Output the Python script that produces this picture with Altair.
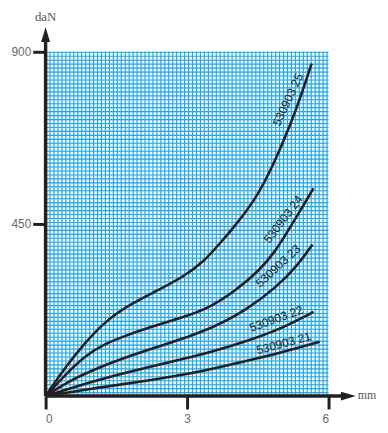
import altair as alt
import pandas as pd

# ---- data ----
x25 = [0, 0.42, 0.84, 1.26, 1.68, 2.31, 2.94, 3.36, 3.71, 4.07, 4.43, 4.70, 5.01, 5.33, 5.64]
y25 = [0, 76, 140, 194, 232, 272, 313, 352, 401, 453, 512, 572, 655, 753, 869]
x24 = [0, 0.42, 0.84, 1.26, 1.68, 2.10, 2.94, 3.44, 4.07, 4.55, 4.85, 5.12, 5.68]
y24 = [0, 56, 106, 137, 157, 176, 207, 228, 279, 331, 375, 427, 543]
x23 = [0, 0.42, 1.05, 2.10, 3.36, 4.28, 4.91, 5.30, 5.66]
y23 = [0, 34, 72, 119, 166, 226, 287, 335, 396]
x22 = [0, 1.05, 2.10, 3.36, 4.22, 4.91, 5.68]
y22 = [0, 41, 74, 109, 142, 171, 220]
x21 = [0, 1.05, 2.10, 3.36, 4.22, 4.91, 5.81]
y21 = [0, 21, 39, 65, 91, 111, 142]

series = ["530903 25", "530903 24", "530903 23", "530903 22", "530903 21"]
xs = [x25, x24, x23, x22, x21]
ys = [y25, y24, y23, y22, y21]

label_x = [5.14, 5.04, 4.93, 4.89, 5.05]
label_y = [775, 462, 340, 202, 138]
label_angle = [295, 307, 317, 340, 345]

x_ticks = [0, 3, 6]
y_ticks = [450, 900]

rows = []
for name, xv, yv in zip(series, xs, ys):
    for a, b in zip(xv, yv):
        rows.append({"s": name, "x": a, "y": b})
curves = pd.DataFrame(rows)
labels = pd.DataFrame({"s": series, "x": label_x, "y": label_y, "a": label_angle})

xs_scale = alt.Scale(domain=[0, 6], nice=False, zero=False)
ys_scale = alt.Scale(domain=[0, 900], nice=False, zero=False)

W, H = 286, 348
# grid pitch of 4 px, offset half a pixel for crisp lines (styling only)
grid_x = [(0.5 + 4 * i) * 6 / W for i in range(0, 72)]
grid_y = [900 - (0.5 + 4 * i) * 900 / H for i in range(0, 87)]
GRID = "#25a6e2"
INK = "#231f20"

gx = alt.Chart(pd.DataFrame({"g": grid_x})).mark_rule(color=GRID, strokeWidth=1.15).encode(
    x=alt.X("g:Q", scale=xs_scale, axis=None))
gy = alt.Chart(pd.DataFrame({"g": grid_y})).mark_rule(color=GRID, strokeWidth=1.15).encode(
    y=alt.Y("g:Q", scale=ys_scale, axis=None))

axis_common = dict(grid=False, domain=False, tickSize=13, tickWidth=3, tickColor=INK,
                   labelColor="#6b6b6b", labelFontSize=12, labelFont="Liberation Sans", title=None)

lines = alt.Chart(curves).mark_line(color=INK, strokeWidth=2.6, interpolate="basis").encode(
    x=alt.X("x:Q", scale=xs_scale, axis=alt.Axis(values=x_ticks, labelPadding=5, orient="bottom", **axis_common)),
    y=alt.Y("y:Q", scale=ys_scale, axis=alt.Axis(values=y_ticks, labelPadding=2, orient="left", **axis_common)),
    detail="s:N",
)

txt = alt.Chart(labels).mark_text(font="Liberation Sans", fontSize=12, color=INK, baseline="middle", align="center").encode(
    x=alt.X("x:Q", scale=xs_scale, axis=None),
    y=alt.Y("y:Q", scale=ys_scale, axis=None),
    text="s:N",
    angle=alt.Angle("a:Q", scale=None),
)

def X(v):
    return alt.XDatum(v, scale=xs_scale, axis=None)

def Y(v):
    return alt.YDatum(v, scale=ys_scale, axis=None)

yaxis_line = alt.Chart().mark_rule(color=INK, strokeWidth=3.5).encode(
    x=X(0), y=Y(0), y2=alt.datum(935))
xaxis_line = alt.Chart().mark_rule(color=INK, strokeWidth=3.5).encode(
    x=X(0), x2=alt.datum(6.35), y=Y(0))

arrow_path = "M0,-1L0.6,1L-0.6,1Z"
y_arrow = alt.Chart().mark_point(shape=arrow_path, filled=True, size=225, color=INK, opacity=1).encode(
    x=X(0), y=Y(945))
x_arrow = alt.Chart().mark_point(shape=arrow_path, filled=True, size=225, color=INK, opacity=1, angle=90).encode(
    x=X(6.42), y=Y(0))

y_title = alt.Chart().mark_text(text="daN", font="Liberation Serif", fontSize=13, color="#555555").encode(
    x=X(0), y=Y(990))
x_title = alt.Chart().mark_text(text="mm", font="Liberation Serif", fontSize=12, color="#555555", align="left").encode(
    x=X(6.62), y=Y(4))

chart = alt.layer(gx, gy, lines, txt, yaxis_line, xaxis_line, y_arrow, x_arrow, y_title, x_title).resolve_axis(
    x="independent", y="independent"
).properties(
    width=W, height=H,
    padding={"left": 38, "top": 42, "right": 52, "bottom": 30},
    autosize=alt.AutoSizeParams(type="none"),
).configure_view(fill="#eef9fe", stroke=None)

chart.save("out.html", embed_options={"renderer": "svg", "actions": False})
